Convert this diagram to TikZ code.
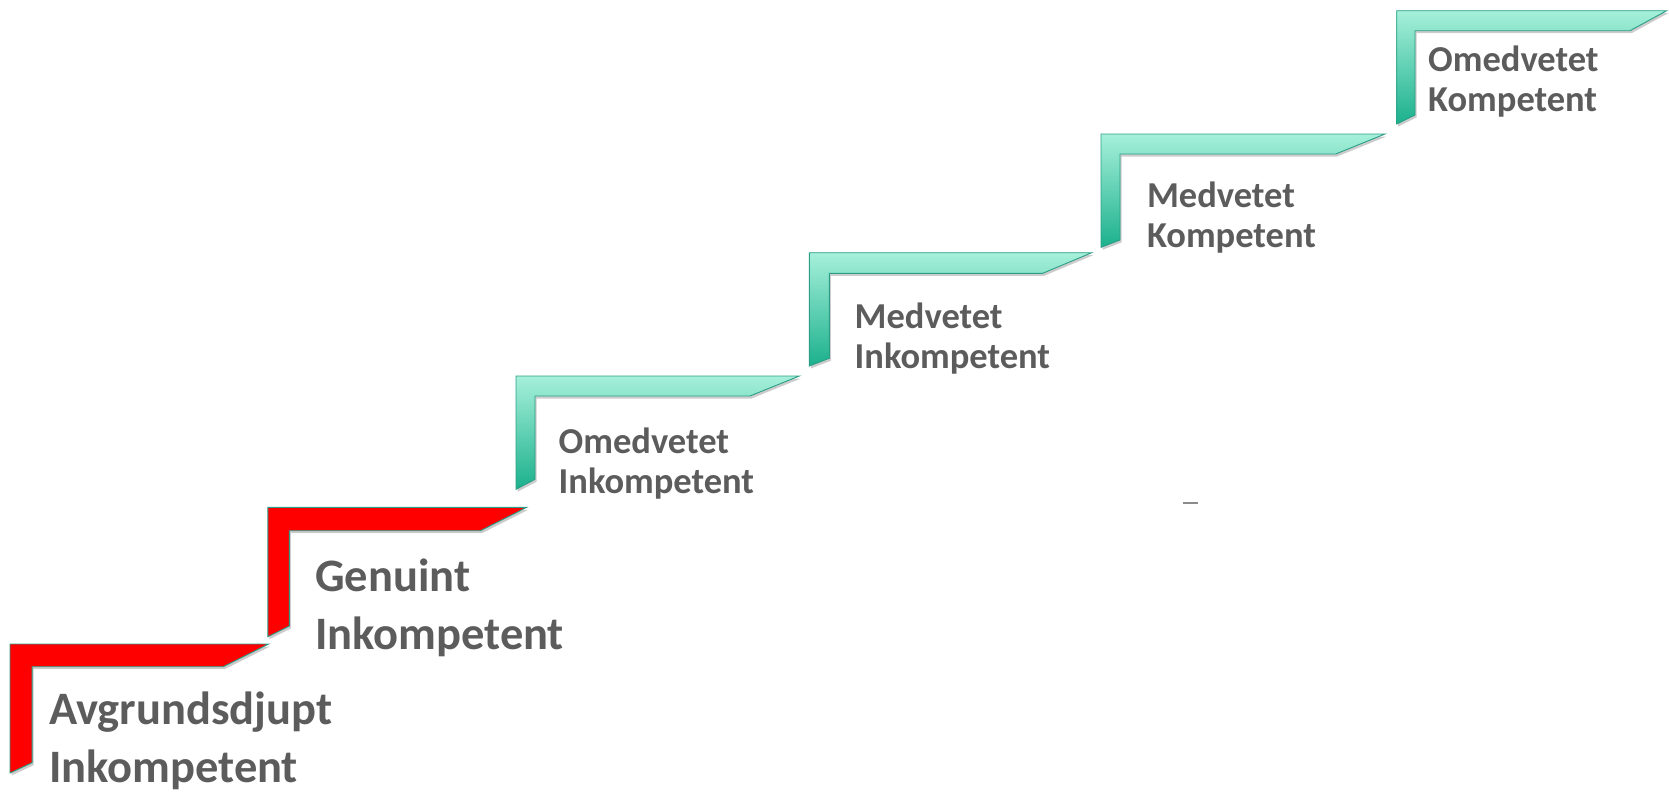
\documentclass[tikz,border=0pt]{standalone}
\usepackage{fontspec}
\setmainfont{Carlito}
\usetikzlibrary{shadows}
\definecolor{mintc}{HTML}{A6F0DA}
\definecolor{tealc}{HTML}{1BB08C}
\definecolor{tealline}{HTML}{2A9E86}
\definecolor{redc}{HTML}{FF0000}
\definecolor{txtc}{HTML}{5C5C5C}
\tikzset{
  stairshadow/.style={drop shadow={shadow xshift=1.5pt,shadow yshift=-2.5pt,opacity=0.2,fill=black}},
  redstair/.style={fill=redc, draw=tealline, line width=0.9pt, stairshadow},
  tealstair/.style={top color=mintc, bottom color=tealc, draw=tealline, line width=0.9pt, stairshadow},
  biglabel/.style={anchor=base west, inner sep=0pt, align=left, text=txtc,
    font=\fontsize{46.5}{57.5}\selectfont\bfseries},
  smalllabel/.style={anchor=base west, inner sep=0pt, align=left, text=txtc,
    font=\fontsize{36.5}{40}\selectfont\bfseries},
}
\begin{document}
\begin{tikzpicture}[x=1pt,y=-1pt]
\useasboundingbox (0,0) rectangle (1669,793);
% red steps
\path[redstair] (10,644) -- (268.6,644) -- (223.2,666.7) -- (32.1,666.7) -- (32.1,762.7) -- (10,773) -- cycle;
\path[redstair] (267.9,507.3) -- (526.8,507.3) -- (480.4,530.7) -- (289.3,530.7) -- (289.3,626) -- (267.9,636.7) -- cycle;
% teal steps
\path[tealstair] (516,376) -- (799.3,376) -- (750,396) -- (535,396) -- (535,479.3) -- (516,489.3) -- cycle;
\path[tealstair] (809.3,252.7) -- (1091.7,252.7) -- (1042.7,273.3) -- (829.3,273.3) -- (829.3,358.3) -- (809.3,366) -- cycle;
\path[tealstair] (1101,134) -- (1385,134) -- (1335.7,154) -- (1120,154) -- (1120,240) -- (1101,247.3) -- cycle;
\path[tealstair] (1396.7,10.7) -- (1666.7,10.7) -- (1630,30.7) -- (1415,30.7) -- (1415,115) -- (1396.7,124) -- cycle;
% labels (base anchor = baseline of the last line)
\node[biglabel] (l1) at (49,782) {Avgrundsdjupt\\Inkompetent};
\node[biglabel] (l2) at (315,649.3) {Genuint\\Inkompetent};
\node[smalllabel] (l3) at (558.5,493) {Omedvetet\\Inkompetent};
\node[smalllabel] (l4) at (854.5,368.3) {Medvetet\\Inkompetent};
\node[smalllabel] (l5) at (1146.8,247.3) {Medvetet\\Kompetent};
\node[smalllabel] (l6) at (1428,111.7) {Omedvetet\\Kompetent};
% stray dash
\draw[draw=gray!90, line width=2pt] (1183,502.7) -- (1198,502.7);
\end{tikzpicture}
\end{document}
